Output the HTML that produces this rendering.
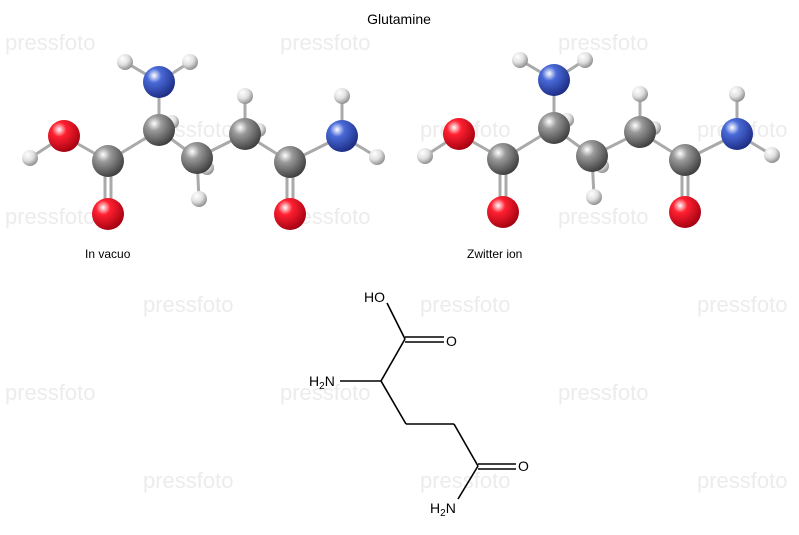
<!DOCTYPE html>
<html><head><meta charset="utf-8"><style>
html,body{margin:0;padding:0;background:#fff;}
svg{display:block;font-family:"Liberation Sans",sans-serif;}
</style></head><body>
<svg width="799" height="535" viewBox="0 0 799 535" xmlns="http://www.w3.org/2000/svg">
<defs>
<radialGradient id="gC" cx="0.35" cy="0.3" r="0.75"><stop offset="0" stop-color="#fff"/><stop offset="0.3" stop-color="#9a9a9a"/><stop offset="1" stop-color="#3a3a3a"/></radialGradient>
<radialGradient id="gO" cx="0.35" cy="0.3" r="0.75"><stop offset="0" stop-color="#fff"/><stop offset="0.3" stop-color="#ff2030"/><stop offset="1" stop-color="#a00010"/></radialGradient>
<radialGradient id="gN" cx="0.35" cy="0.3" r="0.75"><stop offset="0" stop-color="#fff"/><stop offset="0.3" stop-color="#4a6ad8"/><stop offset="1" stop-color="#1a2a80"/></radialGradient>
<radialGradient id="gH" cx="0.35" cy="0.3" r="0.75"><stop offset="0" stop-color="#fff"/><stop offset="0.5" stop-color="#e0e0e0"/><stop offset="1" stop-color="#888"/></radialGradient>
<g id="mol">
 <g stroke="#aaa" stroke-width="3" fill="none">
  <line x1="125" y1="62" x2="159" y2="82"/><line x1="190" y1="62" x2="159" y2="82"/>
  <line x1="159" y1="82" x2="159" y2="130"/><line x1="159" y1="130" x2="172" y2="122"/>
  <line x1="159" y1="130" x2="108" y2="161"/><line x1="64" y1="136" x2="108" y2="161"/>
  <line x1="30" y1="158" x2="64" y2="136"/>
  <line x1="105" y1="161" x2="105" y2="214"/><line x1="111" y1="161" x2="111" y2="214"/>
  <line x1="159" y1="130" x2="197" y2="158"/><line x1="197" y1="158" x2="199" y2="199"/>
  <line x1="197" y1="158" x2="245" y2="134"/><line x1="245" y1="134" x2="245" y2="96"/>
  <line x1="245" y1="134" x2="290" y2="162"/>
  <line x1="287" y1="162" x2="287" y2="214"/><line x1="293" y1="162" x2="293" y2="214"/>
  <line x1="290" y1="162" x2="342" y2="136"/><line x1="342" y1="136" x2="342" y2="96"/>
  <line x1="342" y1="136" x2="377" y2="157"/>
 </g>
 <circle cx="172" cy="122" r="7" fill="url(#gH)"/><circle cx="207" cy="168" r="7" fill="url(#gH)"/><circle cx="259" cy="130" r="7" fill="url(#gH)"/>
 <circle cx="125" cy="62" r="8" fill="url(#gH)"/><circle cx="190" cy="62" r="8" fill="url(#gH)"/>
 <circle cx="30" cy="158" r="8" fill="url(#gH)"/><circle cx="199" cy="199" r="8" fill="url(#gH)"/>
 <circle cx="245" cy="96" r="8" fill="url(#gH)"/><circle cx="342" cy="96" r="8" fill="url(#gH)"/><circle cx="377" cy="157" r="8" fill="url(#gH)"/>
 <circle cx="159" cy="82" r="16" fill="url(#gN)"/><circle cx="342" cy="136" r="16" fill="url(#gN)"/>
 <circle cx="159" cy="130" r="16" fill="url(#gC)"/><circle cx="108" cy="161" r="16" fill="url(#gC)"/>
 <circle cx="197" cy="158" r="16" fill="url(#gC)"/><circle cx="245" cy="134" r="16" fill="url(#gC)"/><circle cx="290" cy="162" r="16" fill="url(#gC)"/>
 <circle cx="64" cy="136" r="16" fill="url(#gO)"/><circle cx="108" cy="214" r="16" fill="url(#gO)"/><circle cx="290" cy="214" r="16" fill="url(#gO)"/>
</g>
</defs>
<g fill="#ececec" font-size="22" font-family="Liberation Sans,sans-serif">
 <text x="5" y="50">pressfoto</text><text x="280" y="50">pressfoto</text><text x="558" y="50">pressfoto</text>
 <text x="143" y="137">pressfoto</text><text x="420" y="137">pressfoto</text><text x="697" y="137">pressfoto</text>
 <text x="5" y="224">pressfoto</text><text x="280" y="224">pressfoto</text><text x="558" y="224">pressfoto</text>
 <text x="143" y="312">pressfoto</text><text x="420" y="312">pressfoto</text><text x="697" y="312">pressfoto</text>
 <text x="5" y="400">pressfoto</text><text x="280" y="400">pressfoto</text><text x="558" y="400">pressfoto</text>
 <text x="143" y="488">pressfoto</text><text x="420" y="488">pressfoto</text><text x="697" y="488">pressfoto</text>
</g>
<text x="399" y="24" font-size="14" text-anchor="middle" fill="#000">Glutamine</text>
<use href="#mol"/>
<use href="#mol" transform="translate(395,-2)"/>
<text x="85" y="258" font-size="12" fill="#000">In vacuo</text>
<text x="467" y="258" font-size="12" fill="#000">Zwitter ion</text>
<g stroke="#000" stroke-width="1.6" fill="none">
 <line x1="387" y1="303" x2="405" y2="339"/>
 <line x1="405" y1="337" x2="444" y2="337"/><line x1="405" y1="342" x2="444" y2="342"/>
 <line x1="405" y1="339" x2="381" y2="381"/>
 <line x1="340" y1="381" x2="381" y2="381"/>
 <line x1="381" y1="381" x2="406" y2="424"/><line x1="406" y1="424" x2="454" y2="424"/>
 <line x1="454" y1="424" x2="478" y2="466"/>
 <line x1="478" y1="464" x2="516" y2="464"/><line x1="478" y1="469" x2="516" y2="469"/>
 <line x1="478" y1="466" x2="458" y2="499"/>
</g>
<g font-size="14" fill="#000">
 <text x="364" y="302">HO</text>
 <text x="446" y="346">O</text>
 <text x="309" y="386">H<tspan font-size="10" dy="3">2</tspan><tspan dy="-3">N</tspan></text>
 <text x="518" y="471">O</text>
 <text x="430" y="513">H<tspan font-size="10" dy="3">2</tspan><tspan dy="-3">N</tspan></text>
</g>
</svg>
</body></html>
